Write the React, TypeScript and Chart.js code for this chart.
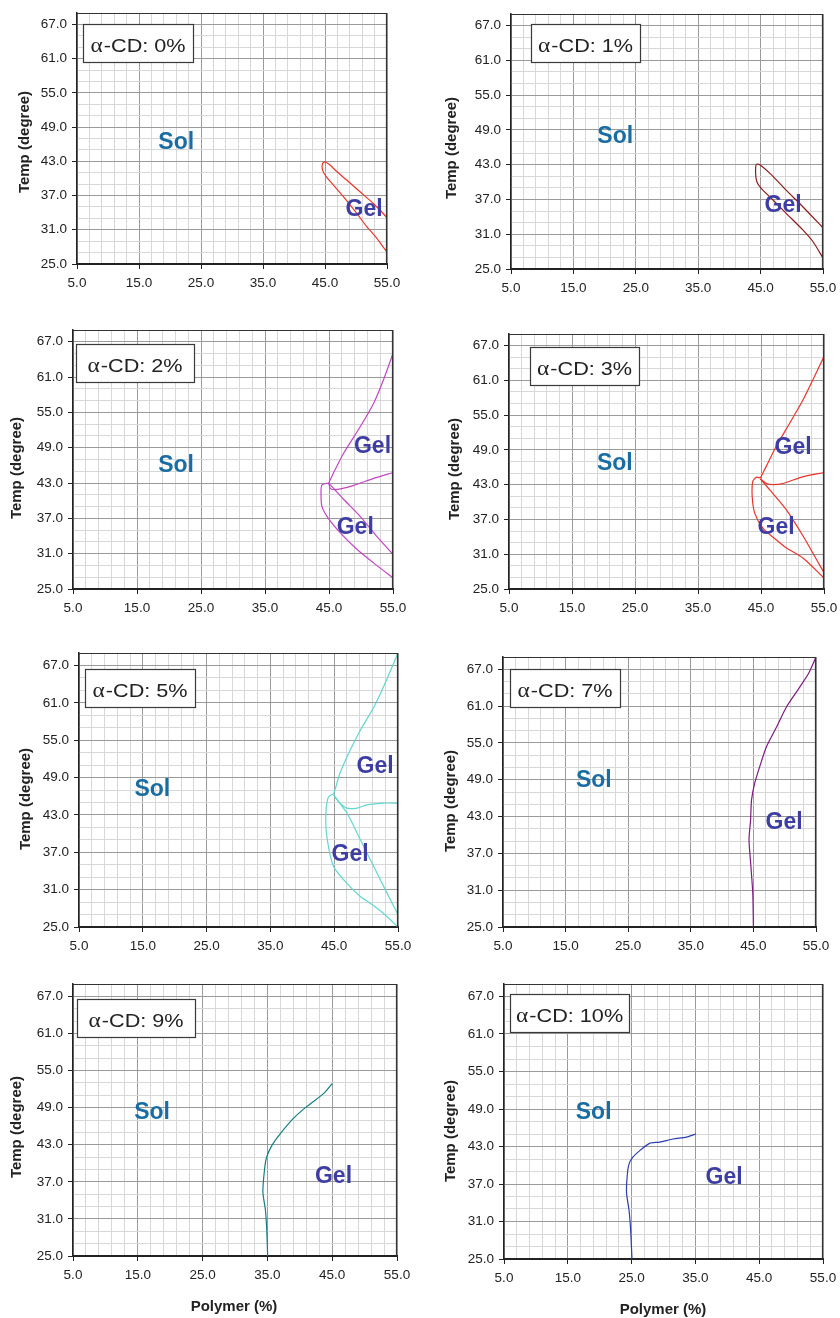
import React, { useEffect, useRef } from 'react';
import { Chart, registerables } from 'chart.js';

Chart.register(...registerables);

// ---------- axes ----------
const polymerTicks = [5, 15, 25, 35, 45, 55];
const tempTicks = [25, 31, 37, 43, 49, 55, 61, 67];
const polymerMin = 5;
const polymerMax = 55;
const tempMin = 25;
const tempMax = 69;
const minorStep = 2;

const yTitle = 'Temp (degree)';
const xTitle = 'Polymer (%)';
const cdLabels = ['α-CD: 0%', 'α-CD: 1%', 'α-CD: 2%', 'α-CD: 3%', 'α-CD: 5%', 'α-CD: 7%', 'α-CD: 9%', 'α-CD: 10%'];

// ---------- phase boundaries (Polymer %, Temp) ----------
// 0 %
const cd0Polymer = [55, 54.1, 52.7, 50.6, 48.4, 46.8, 45.75, 44.95, 44.6, 44.6, 45.2, 46.3, 47.9, 50.1, 51.7, 53.3, 54.1, 55];
const cd0Temp = [33.1, 34.2, 35.7, 37.7, 39.8, 41.3, 42.4, 42.9, 42.6, 41.5, 40.3, 38.9, 36.9, 33.9, 31.6, 29.6, 28.4, 27.1];
// 1 %
const cd1Polymer = [55, 51.8, 49.1, 46.5, 44.8, 44.3, 44.2, 44.4, 45.1, 47.0, 49.1, 51.8, 53.4, 55];
const cd1Temp = [32.1, 35.7, 38.6, 41.5, 43.05, 43.05, 41.5, 40.05, 38.9, 36.9, 34.6, 31.7, 29.7, 26.9];
// 2 %
const cd2UpperPolymer = [44.95, 45.7, 47.3, 49.9, 52.0, 53.5, 55];
const cd2UpperTemp = [43.0, 44.7, 48.1, 52.6, 56.6, 60.5, 65.0];
const cd2MiddlePolymer = [44.95, 45.2, 45.7, 46.8, 48.9, 52.0, 55];
const cd2MiddleTemp = [43.0, 42.1, 41.9, 42.0, 42.6, 43.8, 44.8];
const cd2OuterPolymer = [44.95, 43.9, 43.75, 43.9, 44.95, 46.8, 49.4, 52.0, 55];
const cd2OuterTemp = [43.0, 42.7, 41.3, 39.0, 36.9, 34.5, 31.7, 29.4, 26.9];
const cd2InnerPolymer = [44.95, 47.3, 49.9, 52.5, 55];
const cd2InnerTemp = [43.0, 40.2, 37.3, 33.9, 30.9];
// 3 %
const cd3UpperPolymer = [44.9, 45.85, 47.4, 49.55, 51.7, 55];
const cd3UpperTemp = [44.15, 46.2, 49.6, 53.6, 57.7, 65.1];
const cd3MiddlePolymer = [44.9, 45.85, 46.9, 48.5, 51.7, 55];
const cd3MiddleTemp = [44.0, 43.2, 43.0, 43.2, 44.4, 45.1];
const cd3OuterPolymer = [44.9, 44.3, 43.7, 43.6, 44.0, 45.3, 47.4, 49.0, 51.7, 55];
const cd3OuterTemp = [44.15, 44.3, 43.6, 41.0, 38.1, 35.5, 33.5, 32.1, 30.3, 26.9];
const cd3InnerPolymer = [44.9, 46.4, 49.0, 51.7, 53.8, 55];
const cd3InnerTemp = [44.0, 42.1, 38.7, 34.1, 30.1, 27.8];
// 5 %
const cd5UpperPolymer = [44.9, 45.2, 45.9, 47.5, 49.1, 51.2, 52.7, 55];
const cd5UpperTemp = [46.4, 47.3, 49.7, 53.4, 56.6, 60.3, 63.5, 69];
const cd5MiddlePolymer = [44.9, 45.9, 47.0, 48.6, 50.1, 52.7, 55];
const cd5MiddleTemp = [46.2, 44.9, 44.1, 44.1, 44.6, 44.9, 44.9];
const cd5OuterPolymer = [44.9, 44.1, 43.7, 43.85, 44.9, 47.0, 49.1, 50.65, 52.7, 55];
const cd5OuterTemp = [46.4, 45.9, 43.3, 39.5, 34.7, 32.0, 29.9, 28.8, 27.2, 25];
const cd5InnerPolymer = [44.9, 47.0, 49.1, 51.2, 53.3, 55];
const cd5InnerTemp = [46.2, 43.3, 39.0, 34.7, 30.4, 27.0];
// 7 %
const cd7Polymer = [45.0, 44.9, 44.6, 44.3, 44.55, 44.7, 45.2, 46.0, 47.1, 48.7, 50.3, 52.4, 53.8, 55];
const cd7Temp = [25.0, 30.5, 34.9, 39.2, 42.45, 45.7, 48.4, 51.1, 54.4, 57.6, 60.9, 64.1, 66.3, 69.0];
// 9 %
const cd9Polymer = [35.04, 34.9, 34.7, 34.3, 34.6, 34.9, 35.7, 37.0, 39.05, 41.1, 43.7, 45.0];
const cd9Temp = [25, 29.2, 32.4, 35.4, 39.4, 41.05, 42.9, 44.8, 47.3, 49.2, 51.3, 52.9];
// 10 %
const cd10Polymer = [25.06, 24.85, 24.6, 24.2, 24.4, 24.7, 25.2, 26.0, 27.8, 29.4, 31.5, 33.6, 35.1];
const cd10Temp = [25, 29.6, 32.8, 35.7, 39.2, 40.5, 41.3, 42.1, 43.5, 43.7, 44.2, 44.5, 45.0];

const panelCurves = [
  [[cd0Polymer, cd0Temp]],
  [[cd1Polymer, cd1Temp]],
  [[cd2UpperPolymer, cd2UpperTemp], [cd2MiddlePolymer, cd2MiddleTemp], [cd2OuterPolymer, cd2OuterTemp], [cd2InnerPolymer, cd2InnerTemp]],
  [[cd3UpperPolymer, cd3UpperTemp], [cd3MiddlePolymer, cd3MiddleTemp], [cd3OuterPolymer, cd3OuterTemp], [cd3InnerPolymer, cd3InnerTemp]],
  [[cd5UpperPolymer, cd5UpperTemp], [cd5MiddlePolymer, cd5MiddleTemp], [cd5OuterPolymer, cd5OuterTemp], [cd5InnerPolymer, cd5InnerTemp]],
  [[cd7Polymer, cd7Temp]],
  [[cd9Polymer, cd9Temp]],
  [[cd10Polymer, cd10Temp]],
];

// ---------- region labels (data coordinates of text centre) ----------
const solPositions = [[21.0, 46.2], [21.7, 47.8], [21.1, 46.0], [21.8, 46.6], [16.5, 47.1], [19.5, 48.85], [17.2, 48.2], [19.05, 48.4]];
const gelPositions = [
  [[51.3, 34.5]],
  [[48.6, 36.0]],
  [[51.8, 49.1], [49.1, 35.35]],
  [[50.1, 49.4], [47.4, 35.5]],
  [[51.4, 50.8], [47.5, 36.6]],
  [[49.9, 42.0]],
  [[45.2, 37.8]],
  [[39.5, 38.0]],
];
const boxAnchors = [[5.97, 67.1], [8.25, 67.3], [5.4, 66.7], [8.4, 66.75], [5.9, 66.4], [6.1, 67.0], [5.6, 66.6], [5.9, 67.4]];

// ---------- styles / layout ----------
const curveColors = ['#e8352b', '#8e1b1b', '#c445c4', '#e8352b', '#62d6cf', '#7e1a82', '#137e80', '#2b3db0'];
const solColor = '#1a6da3';
const gelColor = '#3d3da3';
const boxWidths = [110, 109, 118, 109, 110, 110, 118, 119];
const FONT = "'Liberation Sans', Arial, Helvetica, sans-serif";

const layouts = [
  { cx: 0, cy: 0, cw: 420, ch: 305, L: 77, T: 13, R: 387, B: 264, ytx: 25, yty: 142 },
  { cx: 420, cy: 0, cw: 420, ch: 305, L: 511, T: 14, R: 823, B: 269, ytx: 452, yty: 148 },
  { cx: 0, cy: 305, cw: 420, ch: 330, L: 73, T: 330, R: 393, B: 589, ytx: 17, yty: 468 },
  { cx: 420, cy: 305, cw: 420, ch: 330, L: 509, T: 334, R: 824, B: 589, ytx: 455, yty: 469 },
  { cx: 0, cy: 635, cw: 420, ch: 325, L: 79, T: 653, R: 398, B: 927, ytx: 26, yty: 799 },
  { cx: 420, cy: 635, cw: 420, ch: 325, L: 503, T: 657, R: 816, B: 927, ytx: 451, yty: 801 },
  { cx: 0, cy: 960, cw: 420, ch: 358, L: 73, T: 984, R: 397, B: 1256, ytx: 17, yty: 1127, xtx: 234, xty: 1307 },
  { cx: 420, cy: 960, cw: 420, ch: 358, L: 504, T: 984, R: 823, B: 1259, ytx: 451, yty: 1131, xtx: 663, xty: 1310 },
];

const gridValues = (lo: number, hi: number) => {
  const out: number[] = [];
  for (let v = lo; v <= hi + 1e-9; v += minorStep) out.push(v);
  return out;
};
const xGrid = gridValues(polymerMin, polymerMax);
const yGrid = gridValues(tempMin, tempMax);

const phasePlugin = {
  id: 'phase',
  afterDatasetsDraw(chart: any, _args: any, opts: any) {
    const { ctx, chartArea: a, scales } = chart;
    const x = scales.x;
    const y = scales.y;
    ctx.save();
    // frame (top / right)
    ctx.strokeStyle = '#333';
    ctx.lineWidth = 1.2;
    ctx.beginPath();
    ctx.moveTo(a.left, a.top + 0.5);
    ctx.lineTo(a.right - 0.5, a.top + 0.5);
    ctx.lineTo(a.right - 0.5, a.bottom);
    ctx.stroke();

    // Sol / Gel
    ctx.textAlign = 'center';
    ctx.textBaseline = 'middle';
    ctx.font = `bold 23px ${FONT}`;
    ctx.fillStyle = solColor;
    ctx.fillText('Sol', x.getPixelForValue(opts.sol[0]), y.getPixelForValue(opts.sol[1]));
    ctx.fillStyle = gelColor;
    for (const g of opts.gel) ctx.fillText('Gel', x.getPixelForValue(g[0]), y.getPixelForValue(g[1]));

    // α-CD box
    const bx = Math.round(x.getPixelForValue(opts.box[0]));
    const by = Math.round(y.getPixelForValue(opts.box[1]));
    const bw = opts.boxW;
    const bh = 38;
    ctx.fillStyle = '#fff';
    ctx.fillRect(bx, by, bw, bh);
    ctx.strokeStyle = '#3a3a3a';
    ctx.lineWidth = 1.2;
    ctx.strokeRect(bx + 0.5, by + 0.5, bw, bh);
    const alpha = opts.label.slice(0, 1);
    const rest = opts.label.slice(1);
    const sx = 1.17;
    ctx.font = `20px 'Liberation Serif', serif`;
    const aw = ctx.measureText(alpha).width;
    ctx.font = `18.5px ${FONT}`;
    const rw = ctx.measureText(rest).width;
    const total = (aw + rw + 1) * sx;
    const tx = bx + (bw - total) / 2;
    ctx.fillStyle = '#222';
    ctx.textAlign = 'left';
    ctx.textBaseline = 'alphabetic';
    ctx.translate(tx, by + 28);
    ctx.scale(sx, 1);
    ctx.font = `20px 'Liberation Serif', serif`;
    ctx.fillText(alpha, 0, 0);
    ctx.font = `18.5px ${FONT}`;
    ctx.fillText(rest, aw + 1, 0);
    ctx.restore();
  },
  afterDraw(chart: any, _args: any, opts: any) {
    const { ctx } = chart;
    ctx.save();
    ctx.fillStyle = '#222';
    ctx.font = `bold 15px ${FONT}`;
    ctx.textAlign = 'center';
    ctx.textBaseline = 'middle';
    ctx.save();
    ctx.translate(opts.ytx, opts.yty);
    ctx.rotate(-Math.PI / 2);
    ctx.fillText(yTitle, 0, 0);
    ctx.restore();
    if (opts.xtx !== undefined) ctx.fillText(xTitle, opts.xtx, opts.xty);
    ctx.restore();
  },
};

function Panel({ idx }: { idx: number }) {
  const ref = useRef<HTMLCanvasElement | null>(null);
  const lay = layouts[idx];
  useEffect(() => {
    if (!ref.current) return;
    const color = curveColors[idx];
    const datasets = panelCurves[idx].map(([px, ty]) => ({
      data: px.map((v: number, i: number) => ({ x: v, y: ty[i] })),
      showLine: true,
      borderColor: color,
      borderWidth: 1.2,
      pointRadius: 0,
      tension: 0.25,
      fill: false,
    }));
    const isMajorX = (v: number) => polymerTicks.includes(v);
    const isMajorY = (v: number) => tempTicks.includes(v);
    const chart = new Chart(ref.current, {
      type: 'scatter',
      data: { datasets },
      plugins: [phasePlugin],
      options: {
        animation: false,
        responsive: false,
        devicePixelRatio: 1,
        events: [],
        layout: { padding: { left: 0, top: lay.T - lay.cy, right: lay.cx + lay.cw - lay.R, bottom: 0 } },
        plugins: {
          legend: { display: false },
          tooltip: { enabled: false },
          phase: {
            sol: solPositions[idx],
            gel: gelPositions[idx],
            box: boxAnchors[idx],
            boxW: boxWidths[idx],
            label: cdLabels[idx],
            ytx: lay.ytx - lay.cx,
            yty: lay.yty - lay.cy,
            xtx: lay.xtx !== undefined ? lay.xtx - lay.cx : undefined,
            xty: lay.xty !== undefined ? lay.xty - lay.cy : undefined,
          },
        } as any,
        scales: {
          x: {
            type: 'linear',
            min: polymerMin,
            max: polymerMax,
            afterBuildTicks: (s: any) => { s.ticks = xGrid.map((v) => ({ value: v })); },
            afterFit: (s: any) => { s.height = lay.cy + lay.ch - lay.B; s.paddingLeft = 0; s.paddingRight = 0; },
            ticks: {
              autoSkip: false,
              maxRotation: 0,
              padding: 6,
              color: '#222',
              font: { family: FONT, size: 13.5 },
              callback: (v: any) => (isMajorX(Number(v)) ? Number(v).toFixed(1) : ''),
            },
            grid: {
              color: (c: any) => (c.tick && isMajorX(c.tick.value) ? '#9a9a9a' : '#d8d8d8'),
              lineWidth: 1,
              tickLength: 5,
              tickWidth: 1,
              tickColor: (c: any) => (c.tick && isMajorX(c.tick.value) ? '#222' : 'rgba(0,0,0,0)'),
            },
            border: { color: '#222', width: 2 },
          },
          y: {
            type: 'linear',
            min: tempMin,
            max: tempMax,
            afterBuildTicks: (s: any) => { s.ticks = yGrid.map((v) => ({ value: v })); },
            afterFit: (s: any) => { s.width = lay.L - lay.cx; s.paddingTop = 0; s.paddingBottom = 0; },
            ticks: {
              autoSkip: false,
              padding: 5,
              color: '#222',
              font: { family: FONT, size: 13.5 },
              callback: (v: any) => (isMajorY(Number(v)) ? Number(v).toFixed(1) : ''),
            },
            grid: {
              color: (c: any) => (c.tick && isMajorY(c.tick.value) ? '#9a9a9a' : '#d8d8d8'),
              lineWidth: 1,
              tickLength: 5,
              tickWidth: 1,
              tickColor: (c: any) => (c.tick && isMajorY(c.tick.value) ? '#222' : 'rgba(0,0,0,0)'),
            },
            border: { color: '#222', width: 1.5 },
          },
        },
      } as any,
    });
    return () => chart.destroy();
  }, [idx]);
  return (
    <canvas
      ref={ref}
      width={lay.cw}
      height={lay.ch}
      style={{ position: 'absolute', left: lay.cx, top: lay.cy, width: lay.cw, height: lay.ch }}
    />
  );
}

export default function App() {
  return (
    <div style={{ position: 'absolute', left: 0, top: 0, width: 840, height: 1318, background: '#fff' }}>
      {layouts.map((_, i) => (
        <Panel key={i} idx={i} />
      ))}
    </div>
  );
}
